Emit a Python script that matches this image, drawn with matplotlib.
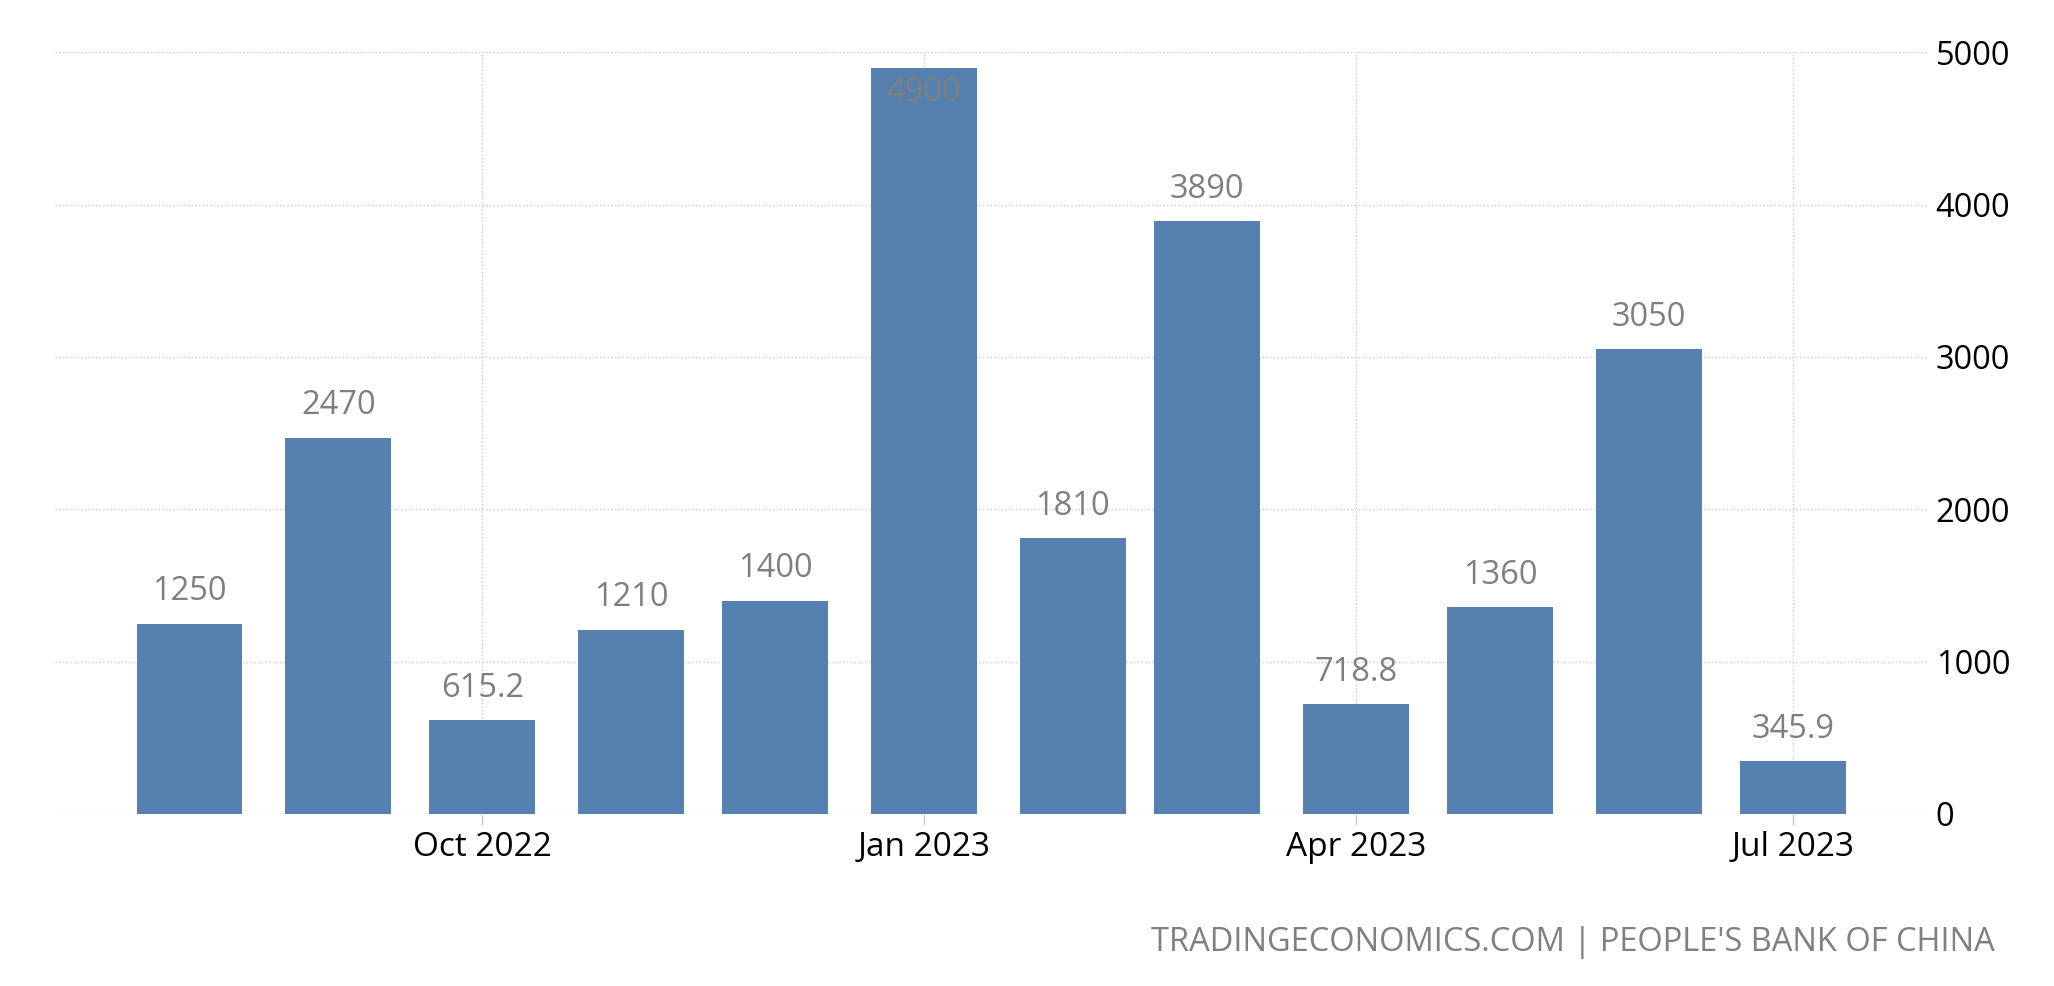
import pandas as pd
import matplotlib
matplotlib.use("Agg")
import matplotlib.pyplot as plt
import matplotlib.dates as mdates

# monthly values (billion yuan), Aug 2022 - Jul 2023
months = ["2022-08-01", "2022-09-01", "2022-10-01", "2022-11-01", "2022-12-01", "2023-01-01",
          "2023-02-01", "2023-03-01", "2023-04-01", "2023-05-01", "2023-06-01", "2023-07-01"]
values = [1250, 2470, 615.2, 1210, 1400, 4900, 1810, 3890, 718.8, 1360, 3050, 345.9]
labels = ["1250", "2470", "615.2", "1210", "1400", "4900", "1810", "3890", "718.8", "1360", "3050", "345.9"]
tick_dates = ["2022-10-01", "2023-01-01", "2023-04-01", "2023-07-01"]
yticks = [0, 1000, 2000, 3000, 4000, 5000]

plt.rcParams['font.family'] = ['Open Sans', 'DejaVu Sans']

dates = pd.to_datetime(months)
fig = plt.figure(figsize=(20.54, 9.86), dpi=100)
ax = fig.add_axes([0.0268, 0.1745, 0.9115, 0.7724])

ax.bar(dates, values, width=22, color='#5580b0', zorder=2)

ax.set_ylim(0, 5000)
ax.set_xlim(pd.Timestamp("2022-07-04"), pd.Timestamp("2023-07-29"))

# value labels above bars, inside if they would spill over the top
for d, v, t in zip(dates, values, labels):
    if v > 4500:
        ax.annotate(t, (d, v), xytext=(0, -6), textcoords='offset points',
                    ha='center', va='top', fontsize=23.5, color='#7f7f7f', zorder=3)
    else:
        ax.annotate(t, (d, v), xytext=(0, 11), textcoords='offset points',
                    ha='center', va='bottom', fontsize=23.5, color='#7f7f7f', zorder=3)

ax.set_xticks(pd.to_datetime(tick_dates))
ax.xaxis.set_major_formatter(mdates.DateFormatter('%b %Y'))
ax.set_yticks(yticks)

ax.yaxis.tick_right()
ax.tick_params(axis='y', length=0, pad=6, labelsize=23.5, labelcolor='black')
ax.tick_params(axis='x', length=8, width=1, color='#c8c8c8', pad=4, labelsize=24, labelcolor='black')
for lbl in ax.get_yticklabels():
    lbl.set_horizontalalignment('left')

ax.grid(True, linestyle=':', color='#c8c8c8', linewidth=1, zorder=0)
for s in ax.spines.values():
    s.set_visible(False)

fig.text(0.971, 0.036, "TRADINGECONOMICS.COM | PEOPLE'S BANK OF CHINA",
         ha='right', va='baseline', fontsize=23.5, color='#808080')

fig.savefig("out.png", dpi=100)
